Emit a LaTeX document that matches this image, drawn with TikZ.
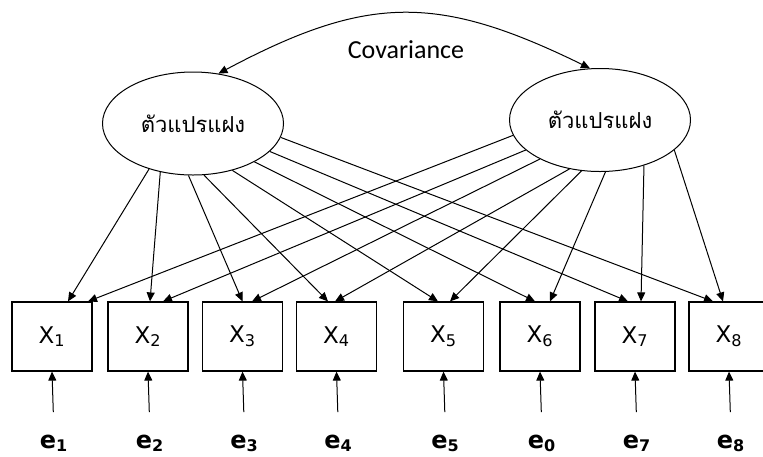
\documentclass[tikz,border=0pt]{standalone}
\usepackage{fontspec}
\setsansfont{DejaVu Sans}
\newfontfamily\thaifont[Script=Thai]{Loma}
\newfontfamily\covfont{Carlito}
\usetikzlibrary{arrows.meta,shapes.geometric}

\begin{document}
\begin{tikzpicture}[x=0.5pt,y=-0.5pt,line width=0.5pt,
    >={Triangle[length=4.5pt,width=4pt]}]
        \useasboundingbox (0,0) rectangle (763,456);

        \begin{scope}[every node/.style={ellipse,draw,minimum width=90.5pt,minimum height=51.5pt,
            font=\thaifont\fontsize{11}{13}\selectfont}]
          \node (f1) at (193,123.5) {ตัวแปรแฝง};
          \node (f2) at (600,120)   {ตัวแปรแฝง};
        \end{scope}

        \node[font=\covfont\fontsize{13}{15}\selectfont] (cov) at (406,50) {Covariance};
        \draw[<->] (f1.63) .. controls (368,-6) and (438,-6) .. (f2.101);

        \begin{scope}[every node/.style={draw,line width=0.6pt,minimum width=40pt,minimum height=34.5pt,
            font=\sffamily\fontsize{11.5}{13}\selectfont}]
          \node (x1) at (52,336.5)  {X\textsubscript{1}};
          \node (x2) at (148,336.5) {X\textsubscript{2}};
          \node (x3) at (242.5,336.5) {X\textsubscript{3}};
          \node (x4) at (336.5,336.5) {X\textsubscript{4}};
          \node (x5) at (443.5,336.5) {X\textsubscript{5}};
          \node (x6) at (540,336.5) {X\textsubscript{6}};
          \node (x7) at (635,336.5) {X\textsubscript{7}};
          \node (x8) at (729,336.5) {X\textsubscript{8}};
        \end{scope}

        \begin{scope}[every node/.style={inner sep=0pt,anchor=base,
            font=\sffamily\bfseries\fontsize{12}{14}\selectfont}]
          \node (e1) at (54,448)  {e\textsubscript{1}};
          \node (e2) at (150,448) {e\textsubscript{2}};
          \node (e3) at (244.5,448) {e\textsubscript{3}};
          \node (e4) at (338.5,448) {e\textsubscript{4}};
          \node (e5) at (445.5,448) {e\textsubscript{5}};
          \node (e6) at (542,448) {e\textsubscript{0}};
          \node (e7) at (637,448) {e\textsubscript{7}};
          \node (e8) at (731,448) {e\textsubscript{8}};
        \end{scope}

        \begin{scope}[every edge/.style={draw,->}]
          \path (f1.226) edge ([xshift=8pt]x1.north);
          \path (f1.236) edge ([xshift=1pt]x2.north);
          \path (f1.265) edge (x3.north);
          \path (f1.282) edge ([xshift=-4.25pt]x4.north);
          \path (f1.310) edge ([xshift=-2.75pt]x5.north);
          \path (f1.328) edge ([xshift=-2.5pt]x6.north);
          \path (f1.340) edge ([xshift=-3.5pt]x7.north);
          \path (f1.351.5) edge ([xshift=-8pt]x8.north);
          \path (f2.190.4) edge ([xshift=18pt]x1.north);
          \path (f2.202.5) edge ([xshift=7.5pt]x2.north);
          \path (f2.213.5) edge ([xshift=4.75pt]x3.north);
          \path (f2.238.5) edge ([xshift=-0.75pt]x4.north);
          \path (f2.250) edge ([xshift=3.25pt]x5.north);
          \path (f2.276.6) edge ([xshift=5pt]x6.north);
          \path (f2.314.4) edge ([xshift=3pt]x7.north);
          \path (f2.338.3) edge ([xshift=-3pt]x8.north);

          \path (e1.north) edge[shorten <=11pt] (x1.south);
          \path (e2.north) edge[shorten <=11pt] (x2.south);
          \path (e3.north) edge[shorten <=11pt] (x3.south);
          \path (e4.north) edge[shorten <=11pt] (x4.south);
          \path (e5.north) edge[shorten <=11pt] (x5.south);
          \path (e6.north) edge[shorten <=11pt] (x6.south);
          \path (e7.north) edge[shorten <=11pt] (x7.south);
          \path (e8.north) edge[shorten <=11pt] (x8.south);
        \end{scope}

      \end{tikzpicture}
\end{document}
